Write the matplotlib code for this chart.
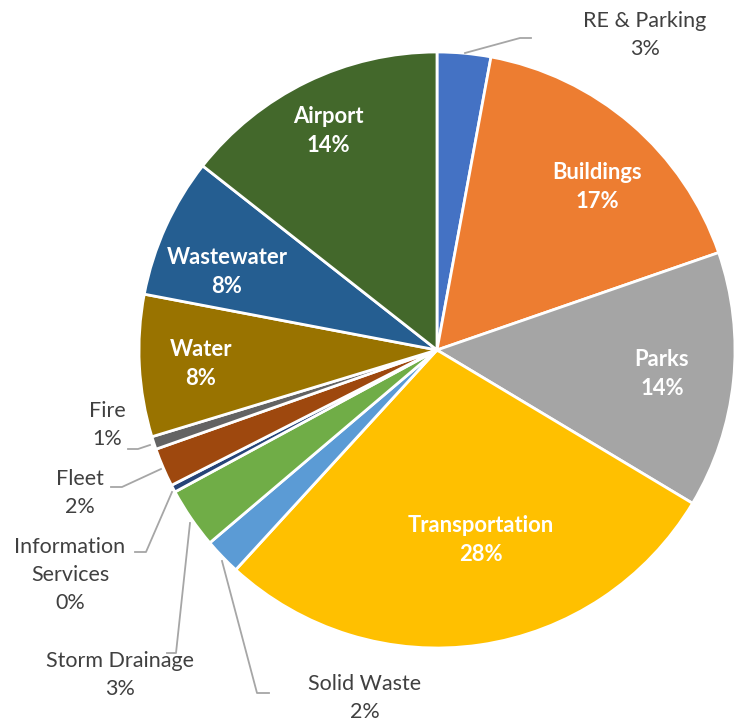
import matplotlib.pyplot as plt
import numpy as np

plt.rcParams['font.family'] = ['Lato', 'DejaVu Sans']

# clockwise from 12 o'clock
names = ["RE & Parking", "Buildings", "Parks", "Transportation", "Solid Waste",
         "Storm Drainage", "Information\nServices", "Fleet", "Fire", "Water",
         "Wastewater", "Airport"]
shares = [2.9, 16.8, 13.9, 28.2, 2.0, 3.3, 0.4, 2.1, 0.7, 7.7, 7.6, 14.4]
colors = ["#4472C4", "#ED7D31", "#A5A5A5", "#FFC000", "#5B9BD5", "#70AD47",
          "#264478", "#9E480E", "#636363", "#997300", "#255E91", "#43682B"]

inside = {"Buildings", "Parks", "Transportation", "Water", "Wastewater", "Airport"}

# pixel helpers (center 437,350 ; radius 298)
CX, CY, R = 437, 350, 298


def px(x, y):
    return (x - CX) / R, (CY - y) / R


# inside label positions in pixels
inside_pos = {"Airport": (328, 131), "Buildings": (597, 187), "Parks": (662, 374),
              "Transportation": (481, 540), "Wastewater": (227, 272), "Water": (201, 364)}

# outside labels: text center pixel, leader polyline pixels
outside = {
    "RE & Parking": ((645, 35), [(465, 53), (520, 38), (531, 38)]),
    "Fire": ((107, 425), [(150, 445), (138, 449), (128, 449)]),
    "Fleet": ((80, 493), [(161, 469), (122, 487), (111, 487)]),
    "Information\nServices": ((70, 575), [(172, 492), (146, 552), (135, 552)]),
    "Storm Drainage": ((120, 675), [(190, 523), (176, 653), (167, 653)]),
    "Solid Waste": ((365, 698), [(222, 561), (257, 693), (269, 693)]),
}

fig = plt.figure(figsize=(7.42, 7.22), dpi=100)
ax = fig.add_axes([(CX - R) / 742, (722 - CY - R) / 722, 2 * R / 742, 2 * R / 722])

wedges, _ = ax.pie(shares, colors=colors, startangle=90, counterclock=False,
                   radius=1, wedgeprops=dict(edgecolor="white", linewidth=2))
ax.set_xlim(-1, 1)
ax.set_ylim(-1, 1)
ax.axis("off")

for name, val in zip(names, shares):
    pct = f"{round(val):.0f}%"
    if name in inside:
        x, y = px(*inside_pos[name])
        ax.text(x, y, f"{name}\n{pct}", ha="center", va="center", color="white",
                fontsize=15.8, fontweight="bold", linespacing=1.45)
    else:
        (tx, ty), pts = outside[name]
        x, y = px(tx, ty)
        ax.text(x, y, f"{name}\n{pct}", ha="center", va="center", color="#404040",
                fontsize=15.5, linespacing=1.5, clip_on=False)
        xs, ys = zip(*[px(a, b) for a, b in pts])
        ax.plot(xs, ys, color="#A6A6A6", lw=1.3, clip_on=False)

fig.savefig("out.png", dpi=100)
